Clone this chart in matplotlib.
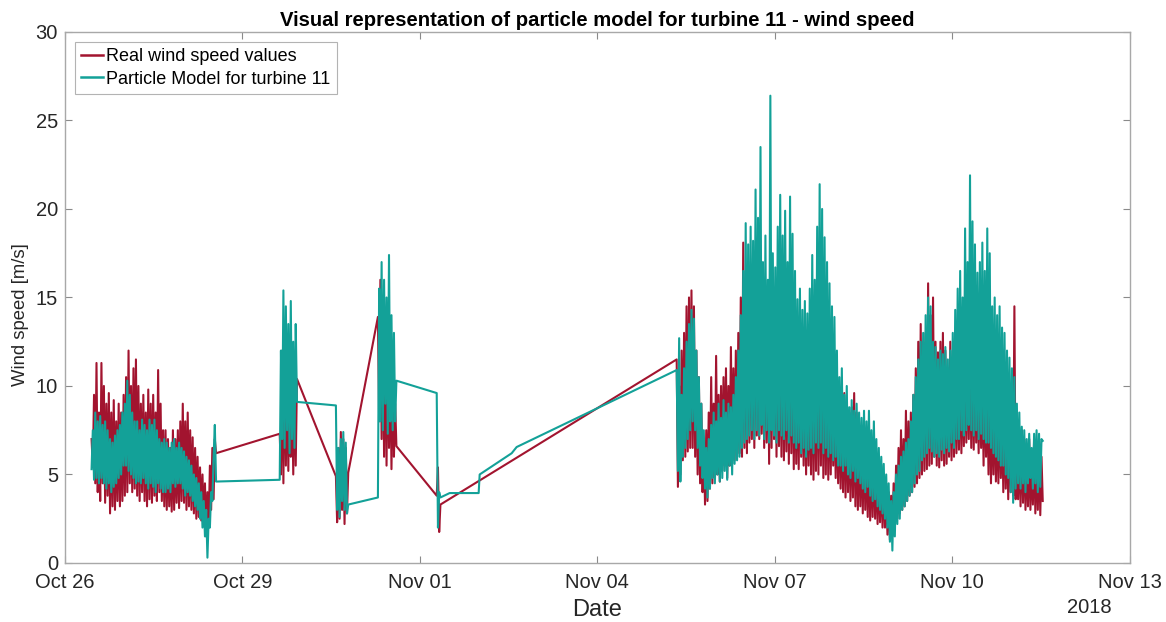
import numpy as np
import pandas as pd
import matplotlib
matplotlib.use('Agg')
import matplotlib.pyplot as plt
import matplotlib.dates as mdates

plt.rcParams['font.family'] = ['Liberation Sans', 'DejaVu Sans']

base = pd.Timestamp('2018-10-26')
half = 1/48  # logger samples every 30 min

# measured wind speed, one list per logging block
real_a = [7.0, 5.4, 9.5, 4.5, 11.3, 4.0, 8.5, 3.5, 11.3, 4.5, 10.0, 3.4,
          9.0, 3.8, 9.6, 2.8, 8.5, 3.2, 9.2, 3.0, 8.0, 3.5, 9.0, 3.2,
          8.5, 3.5, 9.5, 3.8, 10.5, 4.0, 12.0, 4.5, 10.0, 4.0, 11.0, 4.2,
          11.5, 3.8, 10.0, 3.5, 9.0, 4.0, 9.5, 3.5, 8.5, 3.2, 9.8, 3.6,
          9.0, 3.4, 9.5, 3.8, 8.5, 3.5, 10.9, 4.0, 9.0, 3.5, 7.5, 3.2,
          7.5, 3.0, 7.0, 3.2, 6.5, 2.9, 7.5, 3.0, 7.0, 3.4, 7.5, 3.1,
          8.0, 3.5, 9.0, 3.4, 8.0, 3.0, 8.5, 3.2, 7.5, 3.0, 7.1, 2.8,
          6.5, 2.5, 6.0, 2.6, 5.4, 2.4, 5.0, 2.2, 4.5, 1.5, 4.0, 2.0,
          5.5, 3.0, 6.5, 3.6, 7.0, 6.2]
real_b = [7.3, 5.0, 12.0, 4.5, 13.0, 5.5, 11.0, 5.2, 12.0, 6.0, 10.0, 5.0, 11.0, 5.5, 10.4]
real_c = [4.9, 2.3, 6.5, 2.5, 7.4, 3.0, 7.0, 2.2, 6.5, 2.8, 5.1]
real_d = [13.9, 8.0, 16.0, 7.0, 15.0, 6.0, 14.0, 5.5, 13.0, 6.5, 12.0, 5.3, 11.0, 6.0, 9.0, 6.6]
real_e = [3.8, 5.4, 1.75, 3.3]
real_f = [11.5, 4.3, 10.0, 5.0, 12.0, 5.8, 13.0, 6.0, 14.5, 6.3, 15.0, 6.5,
          15.4, 6.5, 14.5, 6.0, 12.0, 5.0, 10.5, 4.5, 9.0, 4.0, 7.0, 3.3,
          7.5, 3.5, 8.5, 4.2, 10.5, 4.5, 9.0, 4.8, 11.7, 5.0, 9.5, 4.6,
          10.0, 5.2, 10.5, 5.5, 11.0, 4.8, 10.0, 5.5, 12.2, 5.6, 11.0, 5.8,
          12.0, 6.0, 13.0, 6.2, 15.0, 6.0, 18.1, 6.5, 16.0, 6.2, 17.0, 6.8,
          16.5, 7.0, 15.0, 6.5, 17.5, 7.2, 16.0, 7.0, 15.5, 7.3, 14.0, 6.5,
          15.0, 6.8, 14.0, 5.6, 16.0, 6.5, 15.0, 7.0, 14.0, 6.0, 15.5, 6.6,
          14.0, 6.0, 15.0, 5.8, 13.5, 6.3, 14.0, 5.6, 15.0, 6.2, 13.0, 5.3,
          12.0, 5.6, 11.5, 5.3, 12.0, 6.0, 11.0, 5.5, 12.0, 5.0, 11.0, 5.5,
          12.0, 5.0, 13.0, 4.7, 12.5, 5.2, 14.0, 5.0, 13.5, 5.5, 13.0, 4.8,
          12.5, 5.0, 12.0, 4.7, 11.0, 5.0, 10.5, 5.5, 10.0, 4.8, 9.5, 4.5,
          9.5, 4.2, 9.0, 4.0, 9.6, 3.7, 9.0, 4.0, 8.5, 3.5, 8.8, 3.7,
          9.6, 3.2, 8.5, 3.0, 8.0, 3.2, 7.5, 2.8, 7.8, 3.0, 7.0, 2.6,
          7.0, 2.4, 6.5, 2.6, 6.8, 2.5, 6.0, 2.2, 5.8, 2.3, 5.5, 2.0,
          5.0, 2.0, 4.5, 1.6, 4.0, 1.3, 3.8, 1.5, 4.5, 2.0, 5.5, 2.5,
          6.5, 2.8, 7.5, 3.0, 7.0, 3.2, 8.6, 3.5, 8.0, 3.8, 8.5, 4.0,
          9.5, 4.3, 11.0, 4.5, 12.5, 4.8, 13.5, 5.0, 12.5, 5.2, 13.0, 5.3,
          15.8, 5.5, 14.0, 5.6, 15.0, 6.0, 12.5, 5.5, 11.9, 5.4, 12.5, 5.8,
          13.0, 5.5, 12.0, 5.6, 11.0, 6.0, 12.5, 5.8, 11.5, 6.0, 12.0, 6.2,
          11.5, 6.4, 12.0, 6.2, 11.0, 6.6, 12.0, 6.8, 11.5, 7.0, 12.0, 6.5,
          12.0, 6.4, 11.5, 6.8, 10.5, 6.2, 11.0, 6.5, 10.5, 5.5, 11.0, 6.0,
          10.0, 5.0, 10.5, 4.5, 9.5, 5.0, 10.0, 4.6, 9.0, 4.5, 9.5, 4.8,
          8.5, 4.0, 9.0, 4.2, 8.0, 3.6, 8.5, 4.0, 8.0, 3.8, 14.5, 3.6,
          7.5, 3.6, 7.0, 3.2, 7.5, 3.4, 7.0, 3.0, 6.5, 3.2, 7.0, 3.0,
          6.0, 3.3, 7.0, 2.8, 6.5, 3.0, 7.0, 2.7, 6.0, 3.5]

# particle model output
model_a = [5.3, 7.5, 4.7, 8.5, 4.8, 8.0, 4.5, 8.3, 4.8, 7.8, 4.5, 8.0,
           4.2, 7.5, 4.5, 7.0, 4.0, 6.8, 4.3, 7.2, 4.5, 7.5, 4.8, 7.8,
           5.0, 8.5, 5.5, 9.0, 5.5, 10.3, 5.2, 9.5, 5.0, 8.5, 4.8, 8.0,
           4.5, 8.0, 4.6, 7.5, 4.5, 8.1, 4.8, 7.8, 4.5, 7.5, 4.2, 8.1,
           4.5, 7.8, 4.3, 8.1, 4.0, 7.5, 4.5, 7.0, 4.2, 6.8, 4.0, 7.0,
           4.0, 6.8, 4.2, 6.5, 4.0, 6.8, 4.5, 7.0, 4.3, 6.5, 4.5, 6.8,
           4.5, 6.5, 4.2, 6.3, 3.8, 6.0, 4.0, 5.8, 3.8, 5.5, 3.5, 5.0,
           3.2, 4.8, 3.0, 4.5, 2.5, 4.0, 2.0, 3.5, 1.5, 3.0, 0.3, 2.5,
           2.0, 4.0, 3.5, 6.0, 7.8, 4.6]
model_b = [4.7, 12.0, 7.0, 15.4, 6.5, 14.5, 7.5, 13.5, 6.2, 14.8, 7.0, 12.5, 6.5, 13.5, 9.1]
model_c = [8.9, 3.0, 6.5, 2.6, 7.0, 3.5, 7.4, 3.0, 6.8, 2.8, 3.3]
model_d = [3.7, 15.5, 8.0, 17.0, 7.5, 16.0, 9.0, 15.0, 7.3, 17.4, 8.0, 14.0, 7.5, 13.0, 8.0, 10.3]
model_e = [9.6, 2.0, 4.0, 3.7]
model_gap_days = [6.503, 6.993, 7.01, 7.551, 7.635]
model_gap = [3.95, 3.95, 5.0, 6.2, 6.55]
model_f = [10.9, 5.2, 12.7, 4.6, 9.5, 6.0, 11.0, 6.5, 12.5, 7.0, 13.5, 7.5,
           14.3, 8.0, 13.8, 7.5, 12.0, 6.5, 10.5, 5.5, 9.0, 4.8, 7.5, 4.2,
           6.5, 3.7, 7.0, 4.2, 7.8, 4.8, 8.5, 4.5, 8.0, 5.0, 9.0, 4.6,
           8.2, 4.8, 9.2, 5.2, 8.5, 4.7, 9.0, 5.5, 8.8, 5.0, 9.5, 5.6,
           10.5, 5.8, 12.0, 6.0, 14.0, 6.5, 16.5, 6.8, 19.2, 7.0, 18.0, 7.2,
           19.0, 7.5, 18.2, 7.0, 21.1, 7.5, 19.5, 7.2, 23.5, 7.8, 17.0, 7.0,
           18.5, 7.5, 16.0, 6.8, 26.4, 7.5, 17.5, 7.2, 16.7, 6.8, 19.0, 7.5,
           20.8, 7.2, 18.5, 7.0, 19.9, 7.5, 17.0, 6.8, 20.7, 7.2, 18.6, 6.8,
           16.5, 6.5, 14.9, 6.8, 15.5, 6.2, 14.3, 6.5, 14.8, 6.0, 14.1, 6.4,
           15.5, 6.5, 17.4, 6.2, 16.0, 6.8, 19.0, 6.5, 21.4, 6.8, 20.0, 6.2,
           18.4, 6.5, 17.0, 6.0, 15.8, 6.2, 14.5, 5.8, 13.9, 6.0, 12.0, 5.5,
           10.5, 5.5, 11.0, 5.2, 9.5, 5.5, 10.0, 5.0, 8.8, 4.8, 9.2, 5.2,
           8.6, 4.6, 9.0, 4.8, 8.5, 4.5, 8.2, 4.2, 8.6, 4.0, 8.0, 4.3,
           8.6, 3.8, 7.5, 3.5, 8.0, 3.6, 7.0, 3.2, 6.5, 3.0, 6.0, 2.8,
           5.6, 2.5, 5.0, 2.0, 4.5, 1.2, 3.5, 0.7, 4.0, 1.5, 5.0, 2.2,
           5.5, 2.5, 6.0, 3.0, 6.3, 3.2, 6.8, 3.5, 7.0, 3.8, 8.0, 4.0,
           9.5, 4.5, 10.5, 5.0, 11.5, 5.2, 12.5, 5.8, 13.0, 6.0, 14.0, 6.2,
           15.0, 6.5, 14.5, 6.3, 12.5, 6.0, 12.2, 6.2, 11.5, 6.0, 12.0, 6.4,
           11.8, 6.2, 12.2, 6.5, 11.5, 6.3, 12.0, 6.8, 13.0, 6.5, 14.3, 7.0,
           15.5, 7.0, 16.5, 7.5, 15.0, 7.2, 18.9, 7.5, 17.0, 7.8, 21.9, 7.5,
           19.3, 7.2, 18.0, 7.5, 16.4, 7.0, 17.0, 7.3, 18.1, 7.0, 16.5, 6.8,
           18.9, 6.8, 17.5, 6.5, 14.5, 6.2, 15.0, 6.0, 14.0, 5.8, 14.5, 5.5,
           13.3, 5.5, 13.0, 5.0, 12.0, 4.8, 11.6, 4.0, 11.0, 3.4, 10.5, 4.2,
           9.0, 4.5, 8.5, 4.2, 7.7, 4.5, 7.5, 4.0, 7.0, 4.5, 7.3, 4.8,
           6.5, 4.2, 7.3, 4.5, 7.5, 4.0, 7.3, 4.3, 7.0, 6.9]

# block start offsets, days after Oct 26 00:00
starts = [0.45, 3.63, 4.58, 5.29, 6.284, 10.34]


def block_days(start, vals):
    return start + half * np.arange(len(vals))


real_blocks = [real_a, real_b, real_c, real_d, real_e, real_f]
model_blocks = [model_a, model_b, model_c, model_d, model_e]

real_days = np.concatenate([block_days(s, v) for s, v in zip(starts, real_blocks)])
real_vals = np.concatenate(real_blocks)

model_days = np.concatenate([block_days(s, v) for s, v in zip(starts[:5], model_blocks)]
                            + [np.array(model_gap_days), block_days(starts[5], model_f)])
model_vals = np.concatenate(model_blocks + [model_gap, model_f])

real_t = base + pd.to_timedelta(real_days, unit='D')
model_t = base + pd.to_timedelta(model_days, unit='D')

red = '#A2142F'
teal = '#13A198'
grey = '#262626'

fig = plt.figure(figsize=(11.66, 6.22), dpi=100)
ax = fig.add_axes([0.0557, 0.0949, 0.9133, 0.8537])

ax.plot(real_t, real_vals, color=red, lw=1.5, label='Real wind speed values')
ax.plot(model_t, model_vals, color=teal, lw=1.5, label='Particle Model for turbine 11')

ax.set_xlim(base, base + pd.Timedelta(days=18))
ax.set_ylim(0, 30)
ax.set_xticks([base + pd.Timedelta(days=d) for d in range(0, 19, 3)])
ax.xaxis.set_major_formatter(mdates.DateFormatter('%b %d'))
ax.set_yticks(range(0, 31, 5))

ax.tick_params(direction='in', top=True, right=True, length=5, width=0.8,
               colors='#8a8a8a', labelcolor=grey, labelsize=14.5)
ax.tick_params(axis='x', pad=7)
ax.tick_params(axis='y', pad=5)
for sp in ax.spines.values():
    sp.set_color('#a8a8a8')
    sp.set_linewidth(1.0)

ax.set_title('Visual representation of particle model for turbine 11 - wind speed',
             fontsize=14.6, fontweight='bold', color='black', pad=4)
ax.set_xlabel('Date', fontsize=17, color=grey, labelpad=5)
ax.set_ylabel('Wind speed [m/s]', fontsize=13.3, color=grey)
ax.yaxis.set_label_coords(-0.034, 0.467)
ax.text(0.9615, -0.066, '2018', transform=ax.transAxes, ha='center', va='top',
        fontsize=14.5, color=grey)

leg = ax.legend(loc='upper left', fontsize=13.0, frameon=True, fancybox=False,
                handlelength=1.2, handletextpad=0.2, borderpad=0.35, labelspacing=0.3,
                borderaxespad=0.55)
leg.get_frame().set_edgecolor('#a0a0a0')
leg.get_frame().set_linewidth(0.8)
for line in leg.get_lines():
    line.set_linewidth(1.8)

fig.savefig('out.png', dpi=100)
